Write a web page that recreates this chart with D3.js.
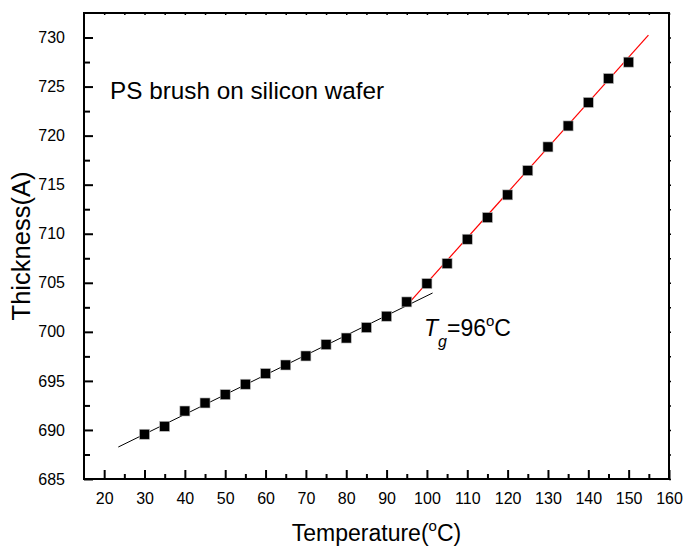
<!DOCTYPE html>
<html>
<head>
<meta charset="utf-8">
<script src="https://cdn.jsdelivr.net/npm/d3@7"></script>
<style>
  html, body { margin: 0; padding: 0; background: #fff; }
  svg { display: block; font-family: Arial, "Liberation Sans", sans-serif; }
</style>
</head>
<body>
<svg id="chart" width="683" height="546"></svg>
<script>
// Film thickness of a PS brush measured while heating
const temperature = [30, 35, 40, 45, 50, 55, 60, 65, 70, 75, 80, 85, 90,
                     95, 100, 105, 110, 115, 120, 125, 130, 135, 140, 145, 150];
const thickness = [689.56, 690.37, 691.93, 692.75, 693.6, 694.66, 695.75, 696.62,
                   697.54, 698.7, 699.37, 700.44, 701.59, 703.05, 704.92, 706.96,
                   709.44, 711.65, 713.96, 716.44, 718.85, 720.99, 723.38, 725.82, 727.49];

// Linear fits below and above the glass transition: [temperature, thickness] end points
const glassyFit = [[23.5, 688.26], [101.4, 703.96]];
const meltFit = [[94.8, 702.6], [154.9, 730.24]];

const xTicks = [20, 30, 40, 50, 60, 70, 80, 90, 100, 110, 120, 130, 140, 150, 160];
const xMinorTicks = [25, 35, 45, 55, 65, 75, 85, 95, 105, 115, 125, 135, 145, 155];
const yTicks = [685, 690, 695, 700, 705, 710, 715, 720, 725, 730];
const yMinorTicks = [687.5, 692.5, 697.5, 702.5, 707.5, 712.5, 717.5, 722.5, 727.5];

const xDomain = [15, 160];
const yDomain = [685, 732.5];

const plot = { left: 84, right: 669, top: 13, bottom: 479 };

const svg = d3.select("#chart");
const x = d3.scaleLinear().domain(xDomain).range([plot.left, plot.right]);
const y = d3.scaleLinear().domain(yDomain).range([plot.bottom, plot.top]);

function styleTicks(g, width) {
  g.select(".domain").remove();
  g.selectAll(".tick line").attr("stroke", "#000").attr("stroke-width", width);
  g.selectAll(".tick text").attr("font-size", 16).attr("fill", "#000");
}

// Bottom axis: labelled major ticks and short minor ticks, all pointing inward
svg.append("g").attr("transform", `translate(0,${plot.bottom})`)
  .call(d3.axisBottom(x).tickValues(xTicks).tickSizeInner(-9).tickSizeOuter(0).tickPadding(14))
  .call(g => styleTicks(g, 2));
svg.append("g").attr("transform", `translate(0,${plot.bottom})`)
  .call(d3.axisBottom(x).tickValues(xMinorTicks).tickSizeInner(-5).tickSizeOuter(0).tickFormat(""))
  .call(g => styleTicks(g, 2));

// Left axis
svg.append("g").attr("transform", `translate(${plot.left},0)`)
  .call(d3.axisLeft(y).tickValues(yTicks).tickSizeInner(-9).tickSizeOuter(0).tickPadding(19))
  .call(g => styleTicks(g, 2));
svg.append("g").attr("transform", `translate(${plot.left},0)`)
  .call(d3.axisLeft(y).tickValues(yMinorTicks).tickSizeInner(-6).tickSizeOuter(0).tickFormat(""))
  .call(g => styleTicks(g, 2));

// Top and right axes carry only tiny tick marks
svg.append("g").attr("transform", `translate(0,${plot.top})`)
  .call(d3.axisTop(x).tickValues(xTicks.concat(xMinorTicks)).tickSizeInner(-2).tickSizeOuter(0).tickFormat(""))
  .call(g => styleTicks(g, 1.5));
svg.append("g").attr("transform", `translate(${plot.right},0)`)
  .call(d3.axisRight(y).tickValues(yTicks.concat(yMinorTicks)).tickSizeInner(2).tickSizeOuter(0).tickFormat(""))
  .call(g => styleTicks(g, 1.5));

// Frame
svg.append("rect")
  .attr("x", plot.left).attr("y", plot.top)
  .attr("width", plot.right - plot.left).attr("height", plot.bottom - plot.top)
  .attr("fill", "none").attr("stroke", "#000").attr("stroke-width", 2);

// Fit lines
const line = d3.line().x(d => x(d[0])).y(d => y(d[1]));
svg.append("path").datum(glassyFit).attr("d", line)
  .attr("fill", "none").attr("stroke", "#000").attr("stroke-width", 1);
svg.append("path").datum(meltFit).attr("d", line)
  .attr("fill", "none").attr("stroke", "#ff0000").attr("stroke-width", 1.2);

// Square markers
const size = 10;
svg.append("g").selectAll("rect")
  .data(temperature.map((t, i) => [t, thickness[i]]))
  .join("rect")
  .attr("x", d => x(d[0]) - size / 2)
  .attr("y", d => y(d[1]) - size / 2)
  .attr("width", size).attr("height", size)
  .attr("fill", "#000")
  .attr("stroke", "#bbb").attr("stroke-width", 0.6);

// Axis titles
svg.append("text")
  .attr("x", (plot.left + plot.right) / 2).attr("y", 541)
  .attr("text-anchor", "middle").attr("font-size", 23)
  .call(t => {
    t.append("tspan").text("Temperature(");
    t.append("tspan").attr("font-size", 15).attr("dy", -10).text("o");
    t.append("tspan").attr("dy", 10).text("C)");
  });

svg.append("text")
  .attr("transform", `translate(30,${(plot.top + plot.bottom) / 2}) rotate(-90)`)
  .attr("text-anchor", "middle").attr("font-size", 25.5)
  .text("Thickness(A)");

// Annotations
svg.append("text")
  .attr("x", 110).attr("y", 99)
  .attr("font-size", 24.3)
  .text("PS brush on silicon wafer");

svg.append("text")
  .attr("x", 424).attr("y", 336)
  .attr("font-size", 23)
  .call(t => {
    t.append("tspan").attr("font-style", "italic").text("T");
    t.append("tspan").attr("font-style", "italic").attr("font-size", 16).attr("dx", 0).attr("dy", 11).text("g");
    t.append("tspan").attr("dy", -11).attr("dx", 0).text("=96");
    t.append("tspan").attr("font-size", 15).attr("dy", -10).text("o");
    t.append("tspan").attr("dy", 10).text("C");
  });
</script>
</body>
</html>
